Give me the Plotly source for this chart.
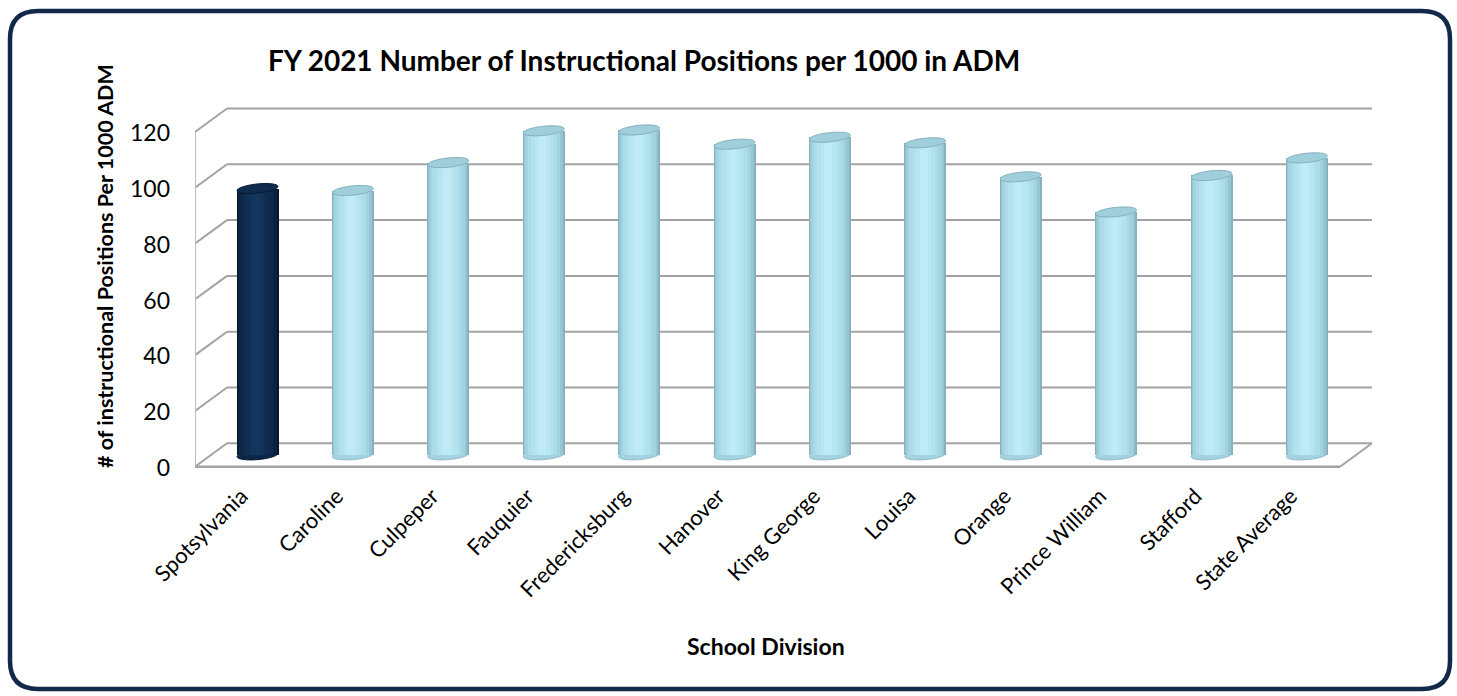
import math
import plotly.graph_objects as go

# ---- data ----
divisions = ["Spotsylvania", "Caroline", "Culpeper", "Fauquier", "Fredericksburg", "Hanover",
             "King George", "Louisa", "Orange", "Prince William", "Stafford", "State Average"]
positions_per_1000 = [95.5, 94.8, 104.8, 116.2, 116.5, 111.4, 113.9, 111.9, 99.7, 87.1, 100.2, 106.5]
value_ticks = [0, 20, 40, 60, 80, 100, 120]

title_text = "FY 2021 Number of Instructional Positions per 1000 in ADM"
y_title = "# of instructional Positions Per 1000 ADM"
x_title = "School Division"

# ---- page geometry (pixels) ----
W, H = 1457, 696
L, R, T, B = 195, 1372, 100, 472        # plot box in page pixels
X0_PX, STEP_PX = 257.5, 95.4            # first column centre and column spacing
ZERO_PX = 455.0                         # value 0 on the mid-depth plane
PX_PER_UNIT = 2.79                      # vertical pixels per unit of value
DX_HALF_PX, DY_HALF_PX = 16.0, 11.7     # half of the oblique depth offset
FRONT_RIGHT_PX = 1340.0

def px_to_x(px):
    return (px - X0_PX) / STEP_PX

x_lo, x_hi = px_to_x(L), px_to_x(R)
y_lo = -(B - ZERO_PX) / PX_PER_UNIT
y_hi = (ZERO_PX - T) / PX_PER_UNIT
dxh = DX_HALF_PX / STEP_PX
dyh = DY_HALF_PX / PX_PER_UNIT

idx = list(range(len(divisions)))
n = len(divisions)

# shading bands of the cylinders, from the rim inwards
light = ["#88B1C0", "#97C5D4", "#A2D3E1", "#AADCE9", "#B1E2EE", "#B8E7F2", "#BFEBF6"]
dark = ["#06162b", "#0a203c", "#0c2646", "#0e2a4d", "#102e53", "#123258", "#14365d"]
widths_px = [42, 39, 35, 29, 22, 15, 8]

fig = go.Figure()

for layer, wpx in enumerate(widths_px):
    colors = [dark[layer] if i == 0 else light[layer] for i in idx]
    fig.add_trace(go.Bar(
        x=idx, y=positions_per_1000, width=[wpx / STEP_PX] * n,
        marker=dict(color=colors, line=dict(width=0)),
        offset=[-(wpx / 2 + min(layer, 3) * 0.5) / STEP_PX] * n,
        xaxis="x", yaxis="y", hoverinfo="skip", showlegend=False,
    ))

shapes = []
grid_col = "#A3A3A3"

# back wall gridlines and side wall diagonals
for v in value_ticks:
    shapes.append(dict(type="line", xref="x", yref="y", layer="below",
                       x0=x_lo + 2 * dxh, x1=x_hi, y0=v + dyh, y1=v + dyh,
                       line=dict(color=grid_col, width=2)))
    shapes.append(dict(type="line", xref="x", yref="y", layer="below",
                       x0=x_lo, x1=x_lo + 2 * dxh, y0=v - dyh, y1=v + dyh,
                       line=dict(color=grid_col, width=2)))

# front-left vertical edge
shapes.append(dict(type="line", xref="x", yref="y", layer="below",
                   x0=x_lo, x1=x_lo, y0=-dyh, y1=value_ticks[-1] - dyh,
                   line=dict(color="#BDBDBD", width=2)))
# floor front edge and right edge
x_front_right = px_to_x(FRONT_RIGHT_PX)
shapes.append(dict(type="line", xref="x", yref="y", layer="below",
                   x0=x_lo, x1=x_front_right, y0=-dyh, y1=-dyh,
                   line=dict(color=grid_col, width=2.5)))
shapes.append(dict(type="line", xref="x", yref="y", layer="below",
                   x0=x_front_right, x1=x_hi, y0=-dyh, y1=dyh,
                   line=dict(color=grid_col, width=2)))


def ellipse_path(cx, cy, a_px, b_px, tilt_deg, steps=48):
    th = math.radians(tilt_deg)
    pts = []
    for s in range(steps):
        t = 2 * math.pi * s / steps
        ex, ey = a_px * math.cos(t), b_px * math.sin(t)
        X = ex * math.cos(th) - ey * math.sin(th)
        Y = ex * math.sin(th) + ey * math.cos(th)
        pts.append((cx + X / STEP_PX, cy + Y / PX_PER_UNIT))
    return "M " + " L ".join(f"{px:.5f},{py:.5f}" for px, py in pts) + " Z"


for i, v in zip(idx, positions_per_1000):
    is_dark = i == 0
    # rounded bottom of each cylinder
    shapes.append(dict(type="path", xref="x", yref="y", layer="between",
                       path=ellipse_path(i, 0, 20.5, 4.6, 5),
                       fillcolor=dark[2] if is_dark else light[2],
                       line=dict(color=dark[0] if is_dark else "#94B9C6", width=1)))
    # top face
    shapes.append(dict(type="path", xref="x", yref="y", layer="above",
                       path=ellipse_path(i, v, 20.5, 4.6, 6),
                       fillcolor="#0f2b4d" if is_dark else "#A0CFDC",
                       line=dict(color="#081a31" if is_dark else "#86AEBD", width=1)))

# rounded outer frame
fx0, fy0, fx1, fy1, rr = 10, 11, 1450, 689, 28
def P(px, py):
    return f"{px / W:.6f},{1 - py / H:.6f}"
frame = ("M " + P(fx0 + rr, fy0) + " L " + P(fx1 - rr, fy0) +
         " Q " + P(fx1, fy0) + " " + P(fx1, fy0 + rr) +
         " L " + P(fx1, fy1 - rr) +
         " Q " + P(fx1, fy1) + " " + P(fx1 - rr, fy1) +
         " L " + P(fx0 + rr, fy1) +
         " Q " + P(fx0, fy1) + " " + P(fx0, fy1 - rr) +
         " L " + P(fx0, fy0 + rr) +
         " Q " + P(fx0, fy0) + " " + P(fx0 + rr, fy0) + " Z")
shapes.append(dict(type="path", xref="paper", yref="paper", layer="above",
                   path=frame, line=dict(color="#12294A", width=4.5)))

font_family = "Lato, 'Open Sans', sans-serif"

annotations = [
    dict(text=f"<b>{title_text}</b>", xref="paper", yref="paper",
         x=266 / W, y=1 - 60 / H, xanchor="left", yanchor="middle",
         showarrow=False, font=dict(family=font_family, size=28, color="#000000")),
    dict(text=f"<b>{y_title}</b>", xref="paper", yref="paper",
         x=105 / W, y=1 - 266 / H, xanchor="center", yanchor="middle", textangle=-90,
         showarrow=False, font=dict(family=font_family, size=21.5, color="#000000")),
    dict(text=f"<b>{x_title}</b>", xref="paper", yref="paper",
         x=766 / W, y=1 - 646 / H, xanchor="center", yanchor="middle",
         showarrow=False, font=dict(family=font_family, size=23, color="#000000")),
]

front_tick_shift = dxh  # labels sit under the front edge of the floor
zero_label_px = 468.0

fig.update_layout(
    width=W, height=H,
    margin=dict(l=0, r=0, t=0, b=0, autoexpand=False),
    paper_bgcolor="#FFFFFF", plot_bgcolor="rgba(0,0,0,0)",
    barmode="overlay", bargap=0,
    shapes=shapes, annotations=annotations,
    xaxis=dict(domain=[L / W, R / W], range=[x_lo, x_hi], visible=False,
               fixedrange=True, automargin=False),
    xaxis2=dict(domain=[L / W, R / W], overlaying="x", anchor="y", side="bottom",
                range=[x_lo + front_tick_shift, x_hi + front_tick_shift],
                tickmode="array", tickvals=idx, ticktext=divisions, tickangle=-45,
                showgrid=False, zeroline=False, showline=False, ticks="",
                ticklabelstandoff=6, automargin=False,
                tickfont=dict(family=font_family, size=22, color="#000000")),
    yaxis=dict(domain=[1 - B / H, 1 - T / H], range=[y_lo, y_hi], visible=False,
               fixedrange=True, automargin=False),
    yaxis2=dict(domain=[1 - B / H, 1 - T / H], overlaying="y", anchor="x", side="left",
                range=[-(B - zero_label_px) / PX_PER_UNIT, (zero_label_px - T) / PX_PER_UNIT],
                tickmode="array", tickvals=value_ticks,
                showgrid=False, zeroline=False, showline=False, ticks="",
                ticklabelstandoff=24, automargin=False,
                tickfont=dict(family=font_family, size=23, color="#000000")),
)

# an invisible trace on the secondary axes so they are drawn
fig.add_trace(go.Scatter(x=[idx[0]], y=[value_ticks[0]], xaxis="x2", yaxis="y2",
                         mode="markers", marker=dict(opacity=0), hoverinfo="skip",
                         showlegend=False))

fig.write_html("out.html")
